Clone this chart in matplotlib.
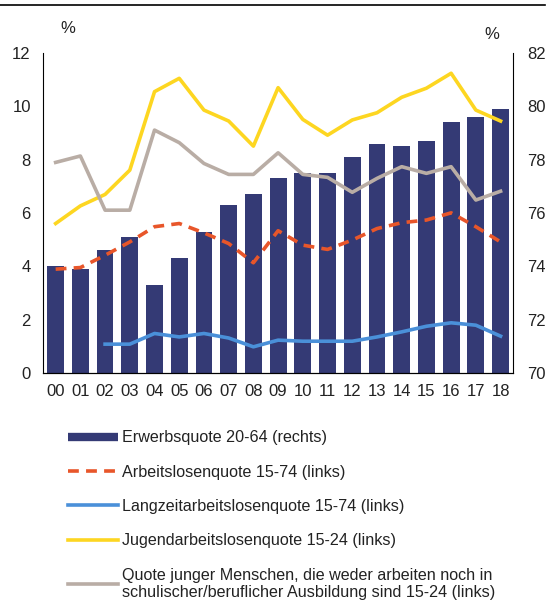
import matplotlib.pyplot as plt
from matplotlib.lines import Line2D

plt.rcParams['font.family'] = ['Liberation Sans', 'DejaVu Sans']

# ---- DATA ----
years = ["00", "01", "02", "03", "04", "05", "06", "07", "08", "09",
         "10", "11", "12", "13", "14", "15", "16", "17", "18"]
erwerbsquote = [74.0, 73.9, 74.6, 75.1, 73.3, 74.3, 75.3, 76.3, 76.7, 77.3,
                77.5, 77.5, 78.1, 78.6, 78.5, 78.7, 79.4, 79.6, 79.9]
arbeitslosen = [3.9, 3.96, 4.42, 4.92, 5.49, 5.61, 5.26, 4.86, 4.14, 5.34,
                4.8, 4.64, 4.99, 5.42, 5.64, 5.74, 6.01, 5.49, 4.92]
langzeit = [None, None, 1.09, 1.09, 1.49, 1.36, 1.49, 1.32, 0.99, 1.24,
            1.2, 1.2, 1.2, 1.36, 1.55, 1.76, 1.89, 1.8, 1.39]
jugend = [5.61, 6.27, 6.7, 7.61, 10.55, 11.05, 9.86, 9.45, 8.51, 10.7,
          9.51, 8.92, 9.49, 9.76, 10.34, 10.68, 11.24, 9.86, 9.45]
neet = [7.9, 8.14, 6.11, 6.11, 9.11, 8.64, 7.86, 7.45, 7.45, 8.26,
        7.45, 7.34, 6.78, 7.3, 7.74, 7.49, 7.74, 6.49, 6.82]

labels = ["Erwerbsquote 20-64 (rechts)",
          "Arbeitslosenquote 15-74 (links)",
          "Langzeitarbeitslosenquote 15-74 (links)",
          "Jugendarbeitslosenquote 15-24 (links)",
          "Quote junger Menschen, die weder arbeiten noch in\n"
          "schulischer/beruflicher Ausbildung sind 15-24 (links)"]

c_bar = "#343A75"
c_red = "#E8562A"
c_blue = "#4A90D9"
c_yellow = "#FDD621"
c_grey = "#B9ADA5"
c_text = "#222222"

fig = plt.figure(figsize=(5.48, 6.02), dpi=100)
ax = fig.add_axes([0.079, 0.38, 0.857, 0.532])
ax2 = ax.twinx()

x = list(range(len(years)))

# ---- BARS (right axis) ----
ax2.bar(x, [v - 70 for v in erwerbsquote], bottom=70, width=0.68, color=c_bar)
ax2.set_ylim(70, 82)
ax2.set_yticks([70, 72, 74, 76, 78, 80, 82])

# ---- LINES (left axis) ----
lw = 2.6
ax.plot(x, jugend, color=c_yellow, lw=lw)
ax.plot(x, neet, color=c_grey, lw=lw)
ax.plot(x, arbeitslosen, color=c_red, lw=lw, ls=(0, (3, 2)))
lx = [i for i, v in zip(x, langzeit) if v is not None]
ly = [v for v in langzeit if v is not None]
ax.plot(lx, ly, color=c_blue, lw=lw)

ax.set_ylim(0, 12)
ax.set_yticks(range(0, 13, 2))
ax.set_xlim(-0.5, 18.5)
ax.set_xticks(x)
ax.set_xticklabels(years)

ax.set_zorder(ax2.get_zorder() + 1)
ax.patch.set_visible(False)

# ---- FORMATTING ----
for a in (ax, ax2):
    a.spines["top"].set_visible(False)
    a.tick_params(length=0, labelsize=12, labelcolor=c_text)
ax.spines["right"].set_visible(False)
ax2.spines["left"].set_visible(False)
ax.tick_params(axis="y", pad=9)
ax.tick_params(axis="x", pad=8)
ax2.tick_params(axis="y", pad=10)

fig.text(0.111, 0.945, "%", fontsize=12, color=c_text)
fig.text(0.883, 0.936, "%", fontsize=12, color=c_text)

fig.add_artist(Line2D([0, 0.995], [0.992, 0.992], color="black", lw=1.2))

handles = [Line2D([], [], color=c_bar, lw=6, solid_capstyle="butt"),
           Line2D([], [], color=c_red, lw=lw, ls=(0, (3, 2))),
           Line2D([], [], color=c_blue, lw=lw),
           Line2D([], [], color=c_yellow, lw=lw),
           Line2D([], [], color=c_grey, lw=lw)]
leg = fig.legend(handles, labels, loc="upper left", bbox_to_anchor=(0.113, 0.296),
                 frameon=False, fontsize=11.6, handlelength=3.1, handletextpad=0.25,
                 labelspacing=1.2, borderaxespad=0)
for t in leg.get_texts():
    t.set_color(c_text)

fig.savefig("out.png", dpi=100)
